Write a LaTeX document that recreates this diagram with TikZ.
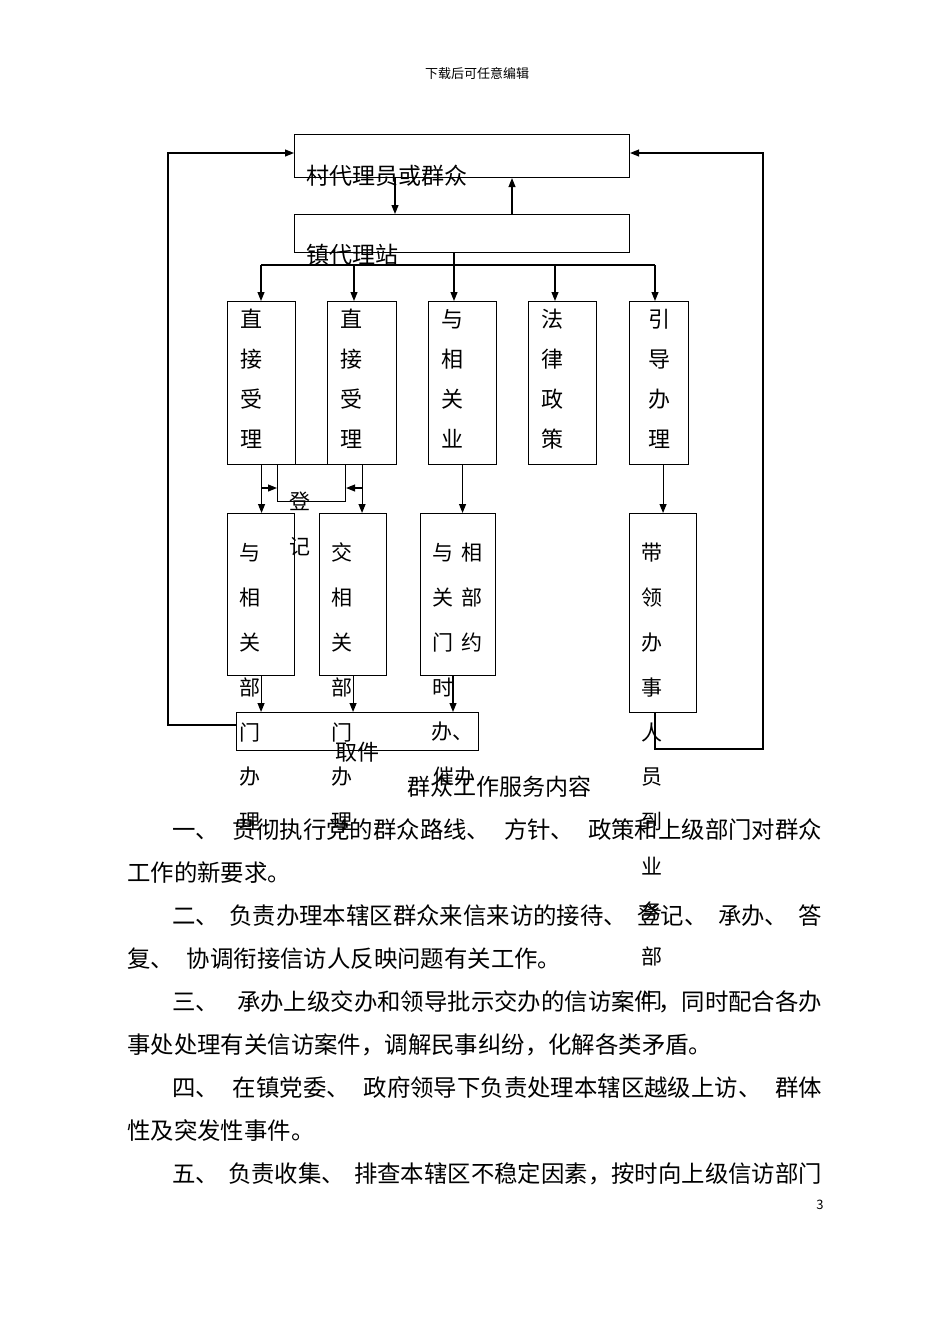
\documentclass[tikz,border=0pt]{standalone}
\usepackage{fontspec}
\setmainfont{Noto Sans CJK SC}
\usetikzlibrary{arrows.meta}
\tikzset{
  box/.style={draw, line width=1.1pt, inner sep=0pt, anchor=north west},
  ln/.style={line width=1.1pt},
  arr/.style={line width=1.1pt, -{Triangle[length=9pt,width=7pt]}},
  t13/.style={inner sep=0pt, font=\fontsize{13pt}{13pt}\selectfont, text height=11.44pt, text depth=1.56pt},
  t21/.style={inner sep=0pt, font=\fontsize{21pt}{21pt}\selectfont, text height=18.48pt, text depth=2.52pt},
  t22/.style={inner sep=0pt, font=\fontsize{22pt}{22pt}\selectfont, text height=19.36pt, text depth=2.64pt},
  t23/.style={inner sep=0pt, font=\fontsize{23pt}{23pt}\selectfont, text height=20.24pt, text depth=2.76pt},
  tp/.style={inner sep=0pt, font=\fontsize{23.4pt}{23.4pt}\selectfont, text height=20.59pt, text depth=2.81pt, anchor=west}
}
\begin{document}
\begin{tikzpicture}[x=1pt,y=-1pt]
\useasboundingbox (0,0) rectangle (950,1344);
\fill[white] (0,0) rectangle (950,1344);

% header
\node[t13] (hdr) at (477,74) {下载后可任意编辑};

% boxes
\node[box, minimum width=335pt, minimum height=43pt] (top) at (294,134) {};
\node[box, minimum width=335pt, minimum height=38pt] (zhen) at (294,214) {};
\node[box, minimum width=68pt, minimum height=163pt] (r1a) at (227,301) {};
\node[box, minimum width=69pt, minimum height=163pt] (r1b) at (327,301) {};
\node[box, minimum width=68pt, minimum height=163pt] (r1c) at (428,301) {};
\node[box, minimum width=68pt, minimum height=163pt] (r1d) at (528,301) {};
\node[box, minimum width=59pt, minimum height=163pt] (r1e) at (629,301) {};
\node[box, minimum width=68pt, minimum height=37pt] (dj) at (277,464) {};
\node[box, minimum width=67pt, minimum height=162pt] (r2a) at (227,513) {};
\node[box, minimum width=67pt, minimum height=162pt] (r2b) at (319,513) {};
\node[box, minimum width=75pt, minimum height=162pt] (r2c) at (420,513) {};
\node[box, minimum width=67pt, minimum height=199pt] (r2d) at (629,513) {};
\node[box, minimum width=242pt, minimum height=38pt] (bot) at (236,712) {};

% helper coordinates
\coordinate (xa) at (395,0);
\coordinate (xb) at (512,0);
\coordinate (bz) at (454,265);
\coordinate (b1) at (261,265);
\coordinate (b2) at (354,265);
\coordinate (b4) at (555,265);
\coordinate (b5) at (655,265);
\coordinate (ya) at (0,488);
\coordinate (xc) at (453,0);
\coordinate (L) at (168,725);
\coordinate (Lt) at (168,153);
\coordinate (xr) at (655,0);
\coordinate (R) at (763,749);
\coordinate (Rt) at (763,153);

% connectors
\draw[arr] (top.south -| xa) -- (zhen.north -| xa);
\draw[arr] (zhen.north -| xb) -- (top.south -| xb);
\draw[ln] (zhen.south -| bz) -- (bz);
\draw[ln] (b1) -- (b5);
\draw[arr] (b1) -- (b1 |- r1a.north);
\draw[arr] (b2) -- (b2 |- r1b.north);
\draw[arr] (bz) -- (bz |- r1c.north);
\draw[arr] (b4) -- (b4 |- r1d.north);
\draw[arr] (b5) -- (b5 |- r1e.north);

\draw[arr] (r1a.south) -- (r1a.south |- r2a.north);
\draw[arr] (r1b.south) -- (r1b.south |- r2b.north);
\draw[arr] (r1c.south) -- (r1c.south |- r2c.north);
\draw[arr] (r2d.north |- r1e.south) -- (r2d.north);
\draw[arr] (r1a.south |- ya) -- (dj.west |- ya);
\draw[arr] (r1b.south |- ya) -- (dj.east |- ya);

\draw[arr] (r2a.south) -- (r2a.south |- bot.north);
\draw[arr] (r2b.south) -- (r2b.south |- bot.north);
\draw[arr] (r2c.south -| xc) -- (bot.north -| xc);

\draw[arr] (bot.west |- L) -- (L) -- (Lt) -- (top.west |- Lt);
\draw[arr] (r2d.south -| xr) -- (xr |- R) -- (R) -- (Rt) -- (top.east |- Rt);

% texts in the diagram
\node[t23, anchor=west] (ttop) at (306,176) {村代理员或群众};
\node[t23, anchor=west] (tzhen) at (306,255) {镇代理站};

\foreach \c [count=\i from 0] in {直,接,受,理} \node[t22] (ta\i) at (251,{319+40*\i}) {\c};
\foreach \c [count=\i from 0] in {直,接,受,理} \node[t22] (tb\i) at (351,{319+40*\i}) {\c};
\foreach \c [count=\i from 0] in {与,相,关,业} \node[t22] (tc\i) at (452,{319+40*\i}) {\c};
\foreach \c [count=\i from 0] in {法,律,政,策} \node[t22] (td\i) at (552,{319+40*\i}) {\c};
\foreach \c [count=\i from 0] in {引,导,办,理} \node[t22] (te\i) at (659,{319+40*\i}) {\c};

\node[t21] (dj0) at (300,502) {登};
\node[t21] (dj1) at (300,547) {记};

\foreach \c [count=\i from 0] in {与,相,关,部,门,办,理} \node[t21] (ua\i) at (250,{553+44.8*\i}) {\c};
\foreach \c [count=\i from 0] in {交,相,关,部,门,办,理} \node[t21] (ub\i) at (342,{553+44.8*\i}) {\c};
\foreach \c [count=\i from 0] in {与,关,门,时} \node[t21] (uc\i) at (443,{553+44.8*\i}) {\c};
\foreach \c [count=\i from 0] in {相,部,约} \node[t21] (uv\i) at (472,{553+44.8*\i}) {\c};
\node[t21, anchor=west] (uc4) at (431,732) {办、};
\node[t21, anchor=west] (uc5) at (433,777) {催办};
\foreach \c [count=\i from 0] in {带,领,办,事,人,员,到,业,务,部,门} \node[t21] (ud\i) at (652,{553+44.8*\i}) {\c};

\node[t22] (qj) at (357,752) {取件};
\node[t23, anchor=west] (title) at (407,787) {群众工作服务内容};

% paragraphs
\node[tp] (p1) at (172,830) {\hbox to 650pt{一、\hfill 贯彻执行党的群众路线、\hfill 方针、\hfill 政策和上级部门对群众}};
\node[tp] (p2) at (127,873) {工作的新要求。};
\node[tp] (p3) at (172,916) {\hbox to 650pt{二、\hfill 负责办理本辖区群众来信来访的接待、\hfill 登记、\hfill 承办、\hfill 答}};
\node[tp] (p4) at (127,959) {复、\hspace*{13pt}协调衔接信访人反映问题有关工作。};
\node[tp] (p5) at (172,1002) {\hbox to 650pt{三、\hfill 承办上级交办和领导批示交办的信访案件，同时配合各办}};
\node[tp] (p6) at (127,1045) {事处处理有关信访案件，调解民事纠纷，化解各类矛盾。};
\node[tp] (p7) at (172,1088) {\hbox to 650pt{四、\hfill 在镇党委、\hfill 政府领导下负责处理本辖区越级上访、\hfill 群体}};
\node[tp] (p8) at (127,1131) {性及突发性事件。};
\node[tp] (p9) at (172,1174) {\hbox to 650pt{五、\hfill 负责收集、\hfill 排查本辖区不稳定因素，按时向上级信访部门}};

\node[t13] (pg) at (820,1205) {3};
\end{tikzpicture}
\end{document}
